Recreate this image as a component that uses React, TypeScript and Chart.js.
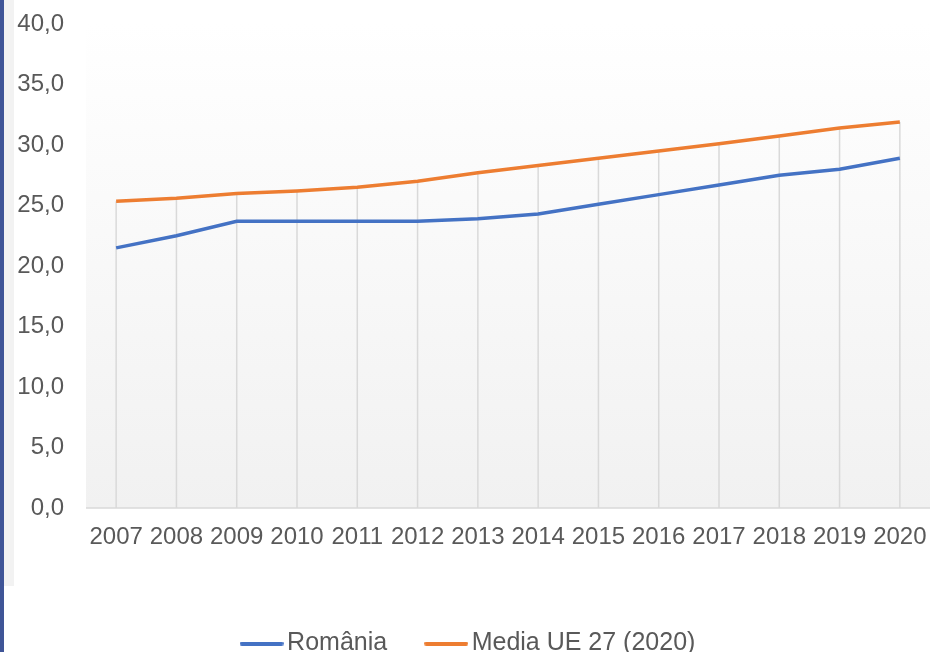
import React, { useEffect, useRef } from "react";
import { Chart, registerables } from "chart.js";

Chart.register(...registerables);

const years = ["2007", "2008", "2009", "2010", "2011", "2012", "2013", "2014", "2015", "2016", "2017", "2018", "2019", "2020"];
const romania = [21.5, 22.5, 23.7, 23.7, 23.7, 23.7, 23.9, 24.3, 25.1, 25.9, 26.7, 27.5, 28.0, 28.9];
const mediaUE = [25.35, 25.6, 26.0, 26.2, 26.5, 27.0, 27.7, 28.3, 28.9, 29.5, 30.1, 30.75, 31.4, 31.9];
const seriesNames = ["România", "Media UE 27 (2020)"];
const seriesColors = ["#4472c4", "#ed7d31"];

const FONT = "'Liberation Sans', Arial, sans-serif";
const TEXT = "#595959";

function lineMarker(color: string) {
  const c = document.createElement("canvas");
  c.width = 44;
  c.height = 4;
  const g = c.getContext("2d") as CanvasRenderingContext2D;
  g.fillStyle = color;
  g.beginPath();
  g.moveTo(2, 0);
  g.lineTo(42, 0);
  g.arc(42, 2, 2, -Math.PI / 2, Math.PI / 2);
  g.lineTo(2, 4);
  g.arc(2, 2, 2, Math.PI / 2, (3 * Math.PI) / 2);
  g.fill();
  return c;
}

const bgPlugin = {
  id: "plotBg",
  afterLayout(chart: any) {
    if (chart.legend) {
      chart.legend.left += 7;
      chart.legend.right += 7;
    }
  },
  beforeDraw(chart: any) {
    const { ctx, chartArea } = chart;
    if (!chartArea) return;
    const g = ctx.createLinearGradient(0, chartArea.top, 0, chartArea.bottom);
    g.addColorStop(0, "#ffffff");
    g.addColorStop(1, "#f1f1f1");
    ctx.save();
    ctx.fillStyle = g;
    ctx.fillRect(chartArea.left, chartArea.top, chartArea.right - chartArea.left, chartArea.bottom - chartArea.top);
    ctx.restore();
  },
  beforeDatasetsDraw(chart: any) {
    const { ctx, chartArea, scales } = chart;
    const xs = scales.x;
    const ys = scales.y;
    ctx.save();
    ctx.strokeStyle = "#d9d9d9";
    ctx.lineWidth = 1.5;
    const n = chart.data.labels.length;
    for (let i = 0; i < n; i++) {
      let top = Infinity;
      chart.data.datasets.forEach((ds: any) => {
        top = Math.min(top, ys.getPixelForValue(ds.data[i]));
      });
      const x = xs.getPixelForValue(i);
      ctx.beginPath();
      ctx.moveTo(x, top);
      ctx.lineTo(x, chartArea.bottom);
      ctx.stroke();
    }
    ctx.beginPath();
    ctx.moveTo(chartArea.left, chartArea.bottom);
    ctx.lineTo(chartArea.right, chartArea.bottom);
    ctx.stroke();
    ctx.restore();
  },
};

export default function App() {
  const ref = useRef<HTMLCanvasElement>(null);
  useEffect(() => {
    document.body.style.margin = "0";
    const chart = new Chart(ref.current as HTMLCanvasElement, {
      type: "line",
      data: {
        labels: years,
        datasets: [
          {
            label: seriesNames[0],
            data: romania,
            borderColor: seriesColors[0],
            backgroundColor: seriesColors[0],
            borderWidth: 3.5,
            pointRadius: 0,
            pointStyle: lineMarker(seriesColors[0]),
            tension: 0,
          },
          {
            label: seriesNames[1],
            data: mediaUE,
            borderColor: seriesColors[1],
            backgroundColor: seriesColors[1],
            borderWidth: 3.5,
            pointRadius: 0,
            pointStyle: lineMarker(seriesColors[1]),
            tension: 0,
          },
        ],
      },
      options: {
        responsive: false,
        animation: false,
        devicePixelRatio: 1,
        layout: { padding: { top: 0, bottom: -14, left: 0, right: 0 } },
        plugins: {
          tooltip: { enabled: false },
          legend: {
            position: "bottom",
            labels: {
              usePointStyle: true,
              pointStyleWidth: 26,
              padding: 46,
              color: TEXT,
              font: { family: FONT, size: 25 },
            },
          },
        },
        scales: {
          x: {
            offset: true,
            grid: { display: false },
            border: { display: false },
            ticks: {
              color: TEXT,
              font: { family: FONT, size: 24 },
              maxRotation: 0,
              autoSkip: false,
              padding: 7,
            },
            afterFit(scale: any) {
              scale.height = 77;
              scale.paddingLeft = 0;
              scale.paddingRight = 0;
            },
          },
          y: {
            min: 0,
            max: 40,
            grid: { display: false },
            border: { display: false },
            ticks: {
              stepSize: 5,
              color: TEXT,
              font: { family: FONT, size: 24 },
              padding: 14,
              callback: (v: any) => Number(v).toFixed(1).replace(".", ","),
            },
            afterFit(scale: any) {
              scale.width = 86;
              scale.paddingTop = 24;
              scale.paddingBottom = 0;
            },
          },
        },
      },
      plugins: [bgPlugin],
    } as any);
    return () => chart.destroy();
  }, []);

  return (
    <div style={{ position: "relative", width: 930, height: 652, overflow: "hidden", background: "#ffffff" }}>
      <div style={{ position: "absolute", left: 0, top: 0, width: 4, height: 652, background: "#3f5597" }} />
      <div style={{ position: "absolute", left: 4, top: 0, width: 10, height: 586, background: "#f2f2f2" }} />
      <canvas ref={ref} width={930} height={652} style={{ position: "absolute", left: 0, top: 0 }} />
    </div>
  );
}
